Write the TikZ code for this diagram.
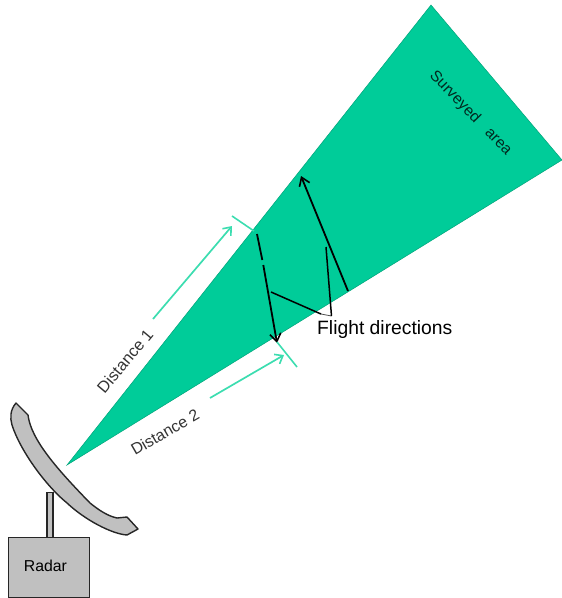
\documentclass[tikz,border=0pt]{standalone}
\usepackage{fontspec}
\setmainfont{Liberation Sans}
\usetikzlibrary{arrows.meta}
\definecolor{areagreen}{HTML}{00CC99}
\definecolor{tealline}{HTML}{3CDDB0}
\definecolor{dishgrey}{HTML}{C0C0C0}
\definecolor{labelgrey}{HTML}{333333}
\tikzset{
  area/.style={fill=areagreen,draw=areagreen!80!black,line width=0.5pt},
  flightline/.style={draw=black,line width=1.8pt},
  flightarrow/.style={flightline,-{Straight Barb[length=8pt,width=11pt,line width=1.6pt]}},
  calloutline/.style={draw=black,line width=1.5pt},
  measure/.style={draw=tealline,line width=1.7pt,-{Straight Barb[length=7pt,width=11pt,line width=1.6pt]}},
  tickline/.style={draw=tealline,line width=1.6pt},
  device/.style={fill=dishgrey,draw=black!85,line width=1.4pt},
  lab/.style={inner sep=0pt,text=black,font=\fontsize{#1}{#1}\selectfont},
}
\begin{document}
\begin{tikzpicture}[x=1pt,y=-1pt]
\useasboundingbox (0,0) rectangle (562,598);
% surveyed sector
\draw[area] (67,465) -- (431,5) -- (562,160) -- cycle;
% dish
\draw[device,line join=round] (16,403) -- (28,415)
  .. controls (31,440) and (58,470) .. (90,503)
  .. controls (100,511) and (108,516) .. (117,518)
  -- (127,517) -- (138,529) -- (127,535)
  .. controls (112,534) and (85,520) .. (67,503)
  .. controls (45,485) and (20,450) .. (12,425)
  .. controls (10,418) and (10,410) .. (16,403) -- cycle;
% stem and box
\node[device,minimum width=6pt,minimum height=45pt,inner sep=0pt,anchor=north,line width=1.1pt] (stem) at (50,492) {};
\node[device,minimum width=81pt,minimum height=60pt,inner sep=0pt,anchor=north west] (box) at (8,537) {};
\node[lab=15.8] (radar) at (45.5,566) {Radar};
% flight lines
\coordinate (f1) at (257,234);
\coordinate (f2) at (262.3,260);
\coordinate (f3) at (263.3,265);
\coordinate (f4) at (277,343);
\coordinate (g1) at (348,291);
\coordinate (g2) at (301,176);
\draw[flightline] (f1) -- (f2);
\draw[flightarrow] (f3) -- (f4);
\draw[flightarrow] (g1) -- (g2);
% callout
\node[lab=19.3,anchor=west] (flight) at (317,329.5) {Flight directions};
\coordinate (c1) at (271,292);
\coordinate (c2) at (321,314);
\coordinate (c3) at (331.5,316);
\coordinate (c4) at (326,247);
\draw[calloutline] (c1) -- (c2);
\draw[draw=black!70,line width=0.8pt] (c2) -- (c3);
\draw[calloutline] (c3) -- (c4);
% distance markers
\coordinate (t1a) at (232,216);
\coordinate (t1b) at (254,231);
\coordinate (t2a) at (277,342);
\coordinate (t2b) at (297,367);
\coordinate (m1a) at (153,319);
\coordinate (m1b) at (232,226);
\coordinate (m2a) at (210,398);
\coordinate (m2b) at (284,355);
\draw[tickline] (t1a) -- (t1b);
\draw[tickline] (t2a) -- (t2b);
\draw[measure] (m1a) -- (m1b);
\draw[measure] (m2a) -- (m2b);
% rotated labels
\node[lab=16.3,text=labelgrey,rotate=50] (d1) at (125,361) {Distance 1};
\node[lab=16,text=labelgrey,rotate=30] (d2) at (165,432) {Distance 2};
\node[lab=15.5,text=black!80!areagreen,rotate=-46] (sa) at (470.5,113.5) {Surveyed\hspace{14pt}area};
\end{tikzpicture}
\end{document}
